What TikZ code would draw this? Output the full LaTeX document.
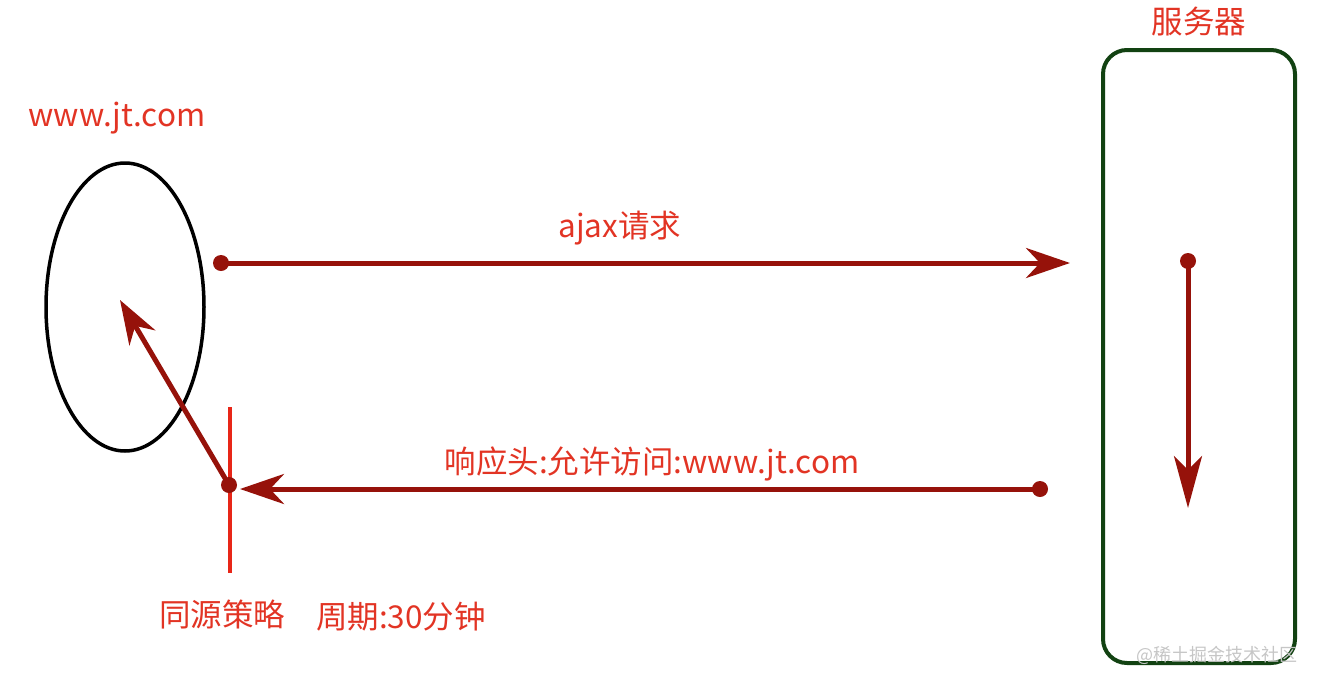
\documentclass[tikz,border=0pt]{standalone}
\usepackage{fontspec}
\newfontfamily\cjk{Noto Sans CJK SC}
\usetikzlibrary{positioning,shapes.geometric,arrows.meta}
\definecolor{arrowred}{RGB}{150,18,10}
\definecolor{labelred}{RGB}{226,52,36}
\definecolor{policyred}{RGB}{232,38,24}
\definecolor{servergreen}{RGB}{18,66,18}

\begin{document}
\begin{tikzpicture}[x=1pt,y=-1pt,
    label/.style={text=labelred, font=\cjk\fontsize{31.5}{34}\selectfont, inner sep=0pt},
    flow/.style={arrowred, line width=5pt, -{Stealth[length=44pt,width=30pt,inset=14pt]}},
    dot/.style={circle, fill=arrowred, inner sep=0pt, minimum size=16pt}]
            \useasboundingbox (0,0) rectangle (1317,686);
            % Client and server
            \node[ellipse, draw, line width=3.5pt, minimum width=158pt, minimum height=288pt] (client) at (125,307) {};
            \node[label] (clientname) at (117,118) {www.jt.com};
            \node[draw=servergreen, line width=4pt, rounded corners=24pt, minimum width=192pt, minimum height=613pt] (server) at (1199,356.5) {};
            \node[label] (servername) at (1199,22) {服务器};
            % Request
            \node[dot] (reqstart) at (221,263) {};
            \coordinate (reqend) at (1070,263);
            \draw[flow] (reqstart.center) -- (reqend);
            \node[label] (reqlabel) at (620,228) {ajax请求};
            % Server side
            \node[dot] (procstart) at (1188,261) {};
            \coordinate (procend) at (1188,508);
            \draw[flow, -{Stealth[length=52pt,width=28pt,inset=14pt]}] (procstart.center) -- (procend);
            % Response
            \node[dot] (respstart) at (1040,489) {};
            \coordinate (respend) at (240,489);
            \draw[flow] (respstart.center) -- (respend);
            \node[label] (resplabel) at (652,464) {响应头:允许访问:www.jt.com};
            % Same origin policy
            \coordinate (policytop) at (230,407);
            \coordinate (policybottom) at (230,573);
            \draw[policyred, line width=4pt] (policytop) -- (policybottom);
            \node[dot] (policydot) at (229,485) {};
            \coordinate (clientcenter) at (120,300);
            \draw[flow] (policydot.center) -- (clientcenter);
            \node[label] (policylabel) at (222,614) {同源策略};
            \node[label] (cyclelabel) at (401,617) {周期:30分钟};
            % Watermark
            \node[text=gray!45, font=\cjk\fontsize{18}{20}\selectfont, inner sep=0pt] (mark) at (1217,655) {@稀土掘金技术社区};
          \end{tikzpicture}
\end{document}
